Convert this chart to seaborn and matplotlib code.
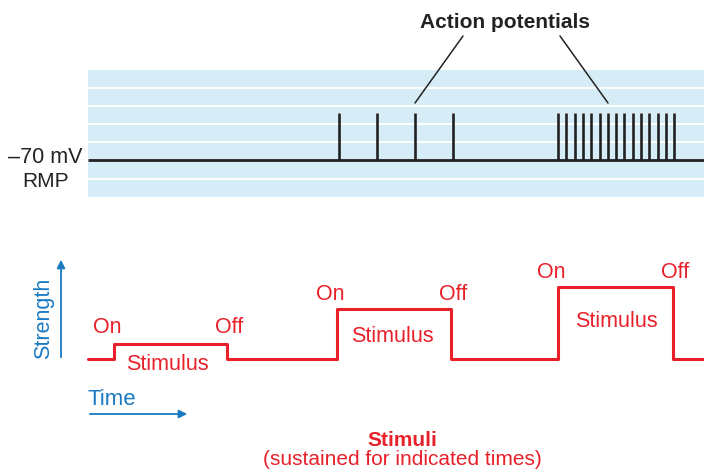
import matplotlib
matplotlib.use("Agg")
import matplotlib.pyplot as plt
import seaborn as sns
import numpy as np
import pandas as pd

# membrane trace (time in px-like units of the drawing)
rmp_level = 160
spike_peak = 113
single_spikes = [339, 377, 415, 453]
burst_spikes = [558, 566, 575, 583, 591, 600, 608, 616, 624, 633, 641, 649, 658, 666, 674]
grid_rows = [70, 88, 106, 124, 142, 179, 197]

# stimuli: start, end, strength
stim_start = [114, 337, 558]
stim_end = [227, 451, 673]
stim_height = [15, 50, 72]
stim_base = 359

RED = "#e8202a"
BLUE = "#1b7ac2"
DARK = "#222222"

sns.set_theme(style="white")
plt.rcParams["font.family"] = ["Liberation Sans", "DejaVu Sans"]

fig = plt.figure(figsize=(7.04, 4.74), dpi=100)
ax = fig.add_axes([0, 0, 1, 1])
ax.set_xlim(0, 704)
ax.set_ylim(474, 0)
ax.axis("off")

# light blue band with white rules
ax.axhspan(70, 197, xmin=88 / 704, xmax=1, color="#d6edf8", lw=0, zorder=0)
for r in grid_rows[1:-1]:
    ax.hlines(r, 88, 704, color="white", lw=1.4, zorder=1)

ax.hlines(rmp_level, 88, 704, color=DARK, lw=2.0, zorder=3)
ax.vlines(single_spikes + burst_spikes, rmp_level, spike_peak, color=DARK, lw=1.9, zorder=3)

ax.text(505, 28, "Action potentials", ha="center", va="baseline", fontsize=15,
        fontweight="bold", color=DARK)
ax.plot([463, 415], [36, 103], color=DARK, lw=1.1)
ax.plot([560, 608], [36, 103], color=DARK, lw=1.1)

ax.text(45, 163, "\u201370 mV", ha="center", va="baseline", fontsize=15.5, color=DARK)
ax.text(46, 187, "RMP", ha="center", va="baseline", fontsize=15, color=DARK)

# stimulus step trace
t, s = [88], [0]
for a, b, h in zip(stim_start, stim_end, stim_height):
    t += [a, a, b, b]
    s += [0, h, h, 0]
t.append(704)
s.append(0)
trace = pd.DataFrame({"time": t, "level": stim_base - np.array(s)})
sns.lineplot(data=trace, x="time", y="level", sort=False, estimator=None,
             color=RED, lw=2.2, ax=ax)

label_base = [333, 300, 278]
stim_label_base = [370, 342, 327]
stim_label_x = [167, 392, 616]
for a, b, lb, sb, sx in zip(stim_start, stim_end, label_base, stim_label_base, stim_label_x):
    ax.text(a - 7, lb, "On", ha="center", va="baseline", fontsize=15.5, color=RED)
    ax.text(b + 2, lb, "Off", ha="center", va="baseline", fontsize=15.5, color=RED)
    ax.text(sx, sb, "Stimulus", ha="center", va="baseline", fontsize=15.5, color=RED)

# axis arrows
ax.annotate("", xy=(61, 257), xytext=(61, 360),
            arrowprops=dict(arrowstyle="-|>", color=BLUE, lw=1.3, mutation_scale=12))
ax.text(44, 318, "Strength", rotation=90, ha="center", va="center", fontsize=15.5, color=BLUE)
ax.annotate("", xy=(190, 414), xytext=(87, 414),
            arrowprops=dict(arrowstyle="-|>", color=BLUE, lw=1.3, mutation_scale=12))
ax.text(87, 405, "Time", ha="left", va="baseline", fontsize=16, color=BLUE)

ax.text(402, 446, "Stimuli", ha="center", va="baseline", fontsize=15,
        fontweight="bold", color=RED)
ax.text(402, 465, "(sustained for indicated times)", ha="center", va="baseline",
        fontsize=15, color=RED)

fig.savefig("out.png", dpi=100)
